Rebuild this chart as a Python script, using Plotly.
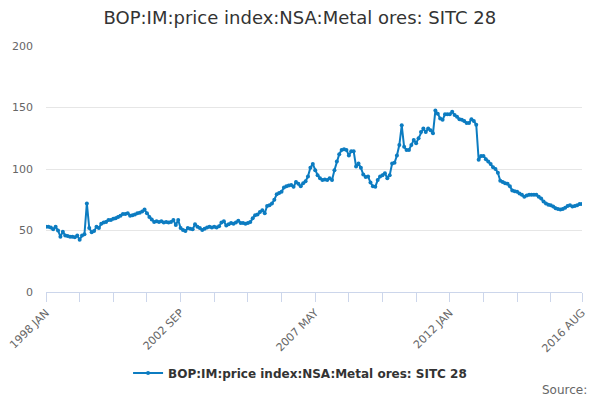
import pandas as pd
import plotly.graph_objects as go

# Monthly index values, 1998 JAN .. 2016 AUG
values = [
    53, 53, 52.5, 51, 53, 50, 45, 49, 46, 45.5, 45, 45,                       # 1998
    44.5, 46, 42.5, 46, 47, 72, 52, 48.5, 49.5, 53, 52, 55.5,                 # 1999
    56.5, 57, 58.5, 58.5, 59.5, 60, 61, 62, 63.5, 63.5, 64, 62,               # 2000
    62.5, 63, 64, 64.5, 65.5, 67, 64, 61, 59, 57, 57.5, 57,                   # 2001
    57.5, 56.5, 57, 56.5, 57, 58.5, 54.5, 58.5, 52, 50.5, 49.5, 52,           # 2002
    51.5, 51, 55, 53, 52, 50.5, 51.5, 52.5, 53, 52.5, 53, 52.5,               # 2003
    53.5, 56.5, 57.5, 54, 55, 56, 55.5, 56.5, 58, 56, 56, 55.5,               # 2004
    56, 57, 60, 62.5, 63, 65, 66.5, 64, 70, 70.5, 72, 75,                     # 2005
    79.5, 80.5, 81.5, 85, 86, 86.5, 87, 85.5, 89.5, 88, 86, 88.5,             # 2006
    90, 94, 101, 104, 99, 95, 92.5, 91, 91.5, 91, 92.5, 91,                   # 2007
    99, 106, 112, 115.5, 116, 115.5, 111, 114.5, 114.5, 102, 104.5, 101,      # 2008
    95.5, 93.5, 94, 89, 86, 85.5, 91, 94, 95, 96.5, 92.5, 95,                 # 2009
    104.5, 105, 111, 119.5, 135.5, 118, 115.5, 115.5, 119.5, 123.5, 121, 125, # 2010
    130, 133, 130, 133, 131.5, 129, 147.5, 145, 141, 140, 144.5, 144.5,       # 2011
    144.5, 146.5, 144, 142.5, 140.5, 140, 139, 137.5, 137.5, 140.5, 139, 136, # 2012
    107.5, 110.5, 110.5, 108, 106, 104, 101.5, 100, 97, 90.5, 89.5, 88.5,     # 2013
    88, 86, 82.5, 82, 81.5, 80, 79, 77.5, 78.5, 79, 79, 79,                   # 2014
    79, 77.5, 76, 73.5, 72, 71, 70.5, 69.5, 68, 67.5, 67, 67.5,               # 2015
    68.5, 70, 70.5, 69.5, 70, 70.5, 71.5, 71.5,                               # 2016
]

months = [d.strftime("%Y %b").upper() for d in pd.date_range("1998-01-01", periods=len(values), freq="MS")]

tick_labels = ["1998 JAN", "2002 SEP", "2007 MAY", "2012 JAN", "2016 AUG"]
tick_idx = list(range(0, len(values) - 1, 14)) + [len(values) - 1]
tickvals = [months[i] for i in tick_idx]
ticktext = [m if m in tick_labels else "" for m in tickvals]

series_name = "BOP:IM:price index:NSA:Metal ores: SITC 28"
blue = "#0c7cc1"

fig = go.Figure()
fig.add_trace(
    go.Scatter(
        x=months,
        y=values,
        mode="lines+markers",
        name="<b>" + series_name + "</b>",
        line=dict(color=blue, width=2),
        marker=dict(color=blue, size=4),
    )
)

# page body has an 8px margin, so the figure is 8px smaller than the window
fig.update_layout(
    width=592,
    height=392,
    paper_bgcolor="white",
    plot_bgcolor="white",
    font=dict(family="DejaVu Sans", color="#666666", size=11),
    title=dict(
        text=series_name,
        x=0.493,
        xanchor="center",
        y=0.975,
        yanchor="middle",
        font=dict(size=18, color="#333333"),
        automargin=False,
    ),
    margin=dict(l=38, r=18, t=38, b=108, autoexpand=False),
    showlegend=True,
    legend=dict(
        orientation="h",
        x=0.474,
        xanchor="center",
        y=-0.329,
        yanchor="middle",
        font=dict(size=12, color="#333333"),
    ),
)

fig.update_xaxes(
    type="category",
    automargin=False,
    range=[0, len(values) - 1],
    tickmode="array",
    tickvals=tickvals,
    ticktext=ticktext,
    tickangle=-45,
    ticks="outside",
    ticklen=9,
    tickcolor="#ccd6eb",
    showline=True,
    linecolor="#ccd6eb",
    showgrid=False,
    tickfont=dict(size=11, color="#666666"),
)

fig.update_yaxes(
    automargin=False,
    range=[0, 200],
    tickvals=[0, 50, 100, 150, 200],
    showgrid=True,
    gridcolor="#e6e6e6",
    zeroline=False,
    showline=False,
    ticks="",
    ticklabelstandoff=12,
    tickfont=dict(size=11, color="#666666"),
)

fig.add_annotation(
    text="Source:",
    xref="paper",
    yref="paper",
    x=1.013,
    y=-0.398,
    xanchor="right",
    yanchor="middle",
    showarrow=False,
    font=dict(size=12, color="#666666"),
)

fig.write_html("out.html")
